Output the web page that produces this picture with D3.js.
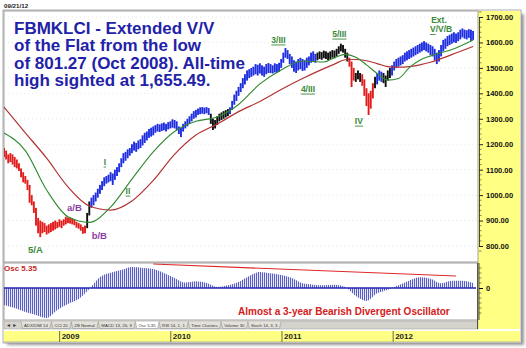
<!DOCTYPE html>
<html><head><meta charset="utf-8">
<script src="https://cdn.jsdelivr.net/npm/d3@7"></script>
<style>
html,body{margin:0;padding:0;background:#fff;}
svg{display:block;font-family:"Liberation Sans",Arial,sans-serif;}
</style></head><body>
<svg id="c" width="526" height="348"></svg>
<script>
// ---------- DATA ----------
const firstWeek = new Date(2008, 6, 4);   // weekly bars from 4 Jul 2008 to 19 Sep 2012
const hi = [
1185,1175,1160,1165,1160,1150,1140,1125,1105,1090,
1075,1060,1040,1000,975,950,910,900,895,890,
880,885,890,895,900,895,905,900,905,915,
912,910,908,905,895,890,885,875,880,930,
975,990,1000,1010,1025,1040,1055,1070,1075,1080,
1090,1085,1100,1110,1125,1145,1165,1170,1180,1185,
1200,1210,1205,1215,1220,1235,1245,1250,1260,1265,
1270,1275,1280,1278,1282,1285,1280,1287,1290,1298,
1295,1290,1270,1265,1280,1290,1300,1310,1320,1330,
1335,1340,1345,1346,1344,1346,1342,1320,1300,1295,
1310,1320,1325,1330,1334,1338,1345,1370,1395,1410,
1425,1440,1460,1475,1490,1495,1500,1505,1515,1512,
1518,1510,1505,1515,1519,1515,1510,1518,1515,1520,
1535,1560,1578,1570,1555,1545,1530,1525,1535,1540,
1535,1530,1540,1545,1560,1565,1555,1560,1565,1562,
1568,1565,1560,1565,1570,1568,1575,1585,1595,1590,
1575,1560,1540,1525,1500,1480,1490,1480,1475,1455,
1420,1400,1410,1440,1465,1480,1490,1485,1480,1470,
1490,1500,1510,1525,1535,1540,1545,1550,1560,1565,
1570,1575,1580,1585,1590,1595,1600,1605,1600,1595,
1590,1585,1575,1560,1570,1590,1610,1615,1625,1630,
1635,1640,1635,1640,1650,1655,1650,1648,1652,1650,
1645];
const lo = [
1150,1140,1125,1130,1120,1110,1105,1095,1070,1050,
1045,1020,970,960,930,880,850,835,850,855,
845,850,855,860,865,870,875,870,880,885,
890,888,885,882,872,868,860,848,850,870,
920,950,960,975,990,1005,1020,1035,1045,1050,
1055,1040,1060,1075,1090,1110,1125,1135,1145,1155,
1165,1175,1170,1180,1185,1195,1205,1215,1225,1230,
1235,1245,1250,1248,1252,1255,1250,1258,1262,1265,
1262,1255,1240,1228,1250,1262,1270,1280,1290,1300,
1305,1315,1318,1320,1318,1322,1315,1280,1256,1262,
1275,1290,1295,1300,1305,1310,1318,1335,1355,1370,
1390,1405,1420,1435,1450,1460,1465,1470,1475,1470,
1478,1470,1465,1475,1480,1480,1478,1482,1480,1485,
1500,1520,1540,1535,1515,1500,1485,1480,1490,1495,
1488,1490,1500,1510,1520,1525,1520,1530,1535,1532,
1538,1535,1530,1535,1540,1538,1545,1555,1565,1560,
1540,1525,1505,1425,1450,1445,1455,1445,1430,1390,
1350,1315,1340,1380,1420,1435,1450,1445,1440,1425,
1450,1460,1470,1490,1500,1505,1510,1515,1525,1530,
1535,1540,1545,1550,1555,1560,1565,1570,1565,1560,
1550,1545,1530,1515,1525,1545,1565,1575,1585,1590,
1595,1600,1598,1605,1612,1620,1615,1612,1618,1605,
1610];
// [last week index of run, trend colour]
const trendRuns = [[38,"down"],[40,"flat"],[96,"up"],[105,"flat"],[146,"up"],[161,"flat"],
  [164,"down"],[167,"flat"],[173,"down"],[174,"flat"],[177,"up"],[181,"flat"],[220,"up"]];
const maWeeks = [0,10,20,30,40,50,60,70,80,90,100,110,120,130,140,150,155,160,165,170,175,180,185,190,195,200,210,220];
const maGreen = [1244,1175,1020,915,893,953,1063,1170,1250,1290,1307,1356,1437,1492,1527,1523,1540,1553,1542,1512,1478,1452,1458,1500,1530,1547,1572,1610];
const maRed   = [1346,1245,1145,1032,957,941,977,1058,1160,1236,1279,1328,1368,1415,1458,1497,1515,1532,1533,1528,1517,1505,1503,1505,1512,1522,1552,1584];
const oscStepWeeks = 5;
const osc = [-51,-60,-72,-81,-90,-66,-48,-33,-3,33,46,54,63,60,57,45,30,16,20,15,3,8,18,36,48,44,39,30,14,10,8,10,3,-24,-39,-16,-5,8,22,32,28,14,22,22,15];
const oscTrend = [[70,72],[212,36]];
const priceTicks = [800,900,1000,1100,1200,1300,1400,1500,1600,1700];
const yearTicks = [2009,2010,2011,2012];
const titleLines = ["FBMKLCI - Extended V/V","of the Flat from the low","of 801.27 (Oct 2008). All-time","high sighted at 1,655.49."];
const waveLabels = [
  {t:"5/A", w:14.8, v:772, c:"#3a8a3a", s:9.5, u:false},
  {t:"a/B", w:33,   v:937, c:"#8a3ca0", s:9.5, u:false},
  {t:"b/B", w:44.8, v:827, c:"#8a3ca0", s:9.5, u:false},
  {t:"I",   w:47.4, v:1118,c:"#3a8a3a", s:8.5, u:true},
  {t:"II",  w:58.2, v:1004,c:"#3a8a3a", s:8.5, u:true},
  {t:"3/III",w:128.8,v:1598,c:"#3a8a3a",s:8.5, u:true},
  {t:"4/III",w:142.6,v:1405,c:"#3a8a3a",s:8.5, u:true},
  {t:"5/III",w:157.4,v:1621,c:"#3a8a3a",s:8.5, u:true},
  {t:"IV",  w:166.5,v:1279,c:"#3a8a3a", s:8.5, u:true},
  {t:"Ext.",w:204,  v:1676,c:"#3a8a3a", s:8.5, u:false},
  {t:"V/V/B",w:205, v:1641,c:"#3a8a3a", s:8.5, u:"first"}
];
const tabs = ["ADX/DMI 14","CCI 20","ZB Normal","MACD 13, 26, 9","Osc 5,35","RSI 14, 1, 1","Time Clusters","Volume 30","Stoch 14, 3, 3"];
const trendColor = {down:"#e21b1b", flat:"#111111", up:"#1f2fe0"};

// ---------- SCALES ----------
const svg = d3.select("#c");
const wDate = i => d3.timeDay.offset(firstWeek, 7*i);
const x = d3.scaleTime().domain([firstWeek, new Date(2012,8,24)]).range([4,474]);
const y = d3.scaleLinear().domain([800,1700]).range([246,17]);
const oy = d3.scaleLinear().domain([0,66]).range([288,266]);
const FONT = "'Liberation Sans',Arial,sans-serif";

// ---------- FRAME ----------
const defs = svg.append("defs");
defs.append("filter").attr("id","sh").append("feGaussianBlur").attr("stdDeviation",1.6);
const pat = defs.append("pattern").attr("id","stripes").attr("width",2).attr("height",10).attr("patternUnits","userSpaceOnUse");
pat.append("rect").attr("x",0).attr("y",0).attr("width",1.15).attr("height",10).attr("fill","#5a5fc6");
defs.append("clipPath").attr("id","mainClip").append("rect").attr("x",4).attr("y",11).attr("width",474).attr("height",251);
defs.append("clipPath").attr("id","oscClip").append("rect").attr("x",4).attr("y",263).attr("width",472).attr("height",57);

svg.append("rect").attr("x",7).attr("y",14).attr("width",517).attr("height",331).attr("fill","#777").attr("opacity",0.75).attr("filter","url(#sh)");
svg.append("rect").attr("x",3).attr("y",10).attr("width",518).attr("height",333).attr("fill","#fff").attr("stroke","#9a9a9a").attr("stroke-width",0.8);

svg.append("text").attr("x",4).attr("y",8).attr("font-size",6.2).attr("font-weight","bold").attr("fill","#222").text("09/21/12");

// yellow column + date band
svg.append("rect").attr("x",478).attr("y",11).attr("width",42).attr("height",318).attr("fill","#ffff84");
svg.append("rect").attr("x",4).attr("y",331).attr("width",516).attr("height",11).attr("fill","#ffff84");

// main panel
svg.append("rect").attr("x",4).attr("y",11).attr("width",474).attr("height",251).attr("fill","#fff").attr("stroke","#8a8a8a").attr("stroke-width",0.8);
// osc panel
svg.append("rect").attr("x",4).attr("y",263).attr("width",474).attr("height",57).attr("fill","#fff").attr("stroke","#8a8a8a").attr("stroke-width",0.8);
// tab bar
svg.append("rect").attr("x",4).attr("y",321).attr("width",474).attr("height",8).attr("fill","#d6d3cc").attr("stroke","#999").attr("stroke-width",0.5);
svg.append("line").attr("x1",477.5).attr("x2",477.5).attr("y1",263).attr("y2",329).attr("stroke","#333").attr("stroke-width",0.8);

// gridlines
svg.append("g").selectAll("line").data(priceTicks).join("line")
  .attr("x1",4).attr("x2",478).attr("y1",d=>y(d)).attr("y2",d=>y(d))
  .attr("stroke","#d8d8d8").attr("stroke-width",0.6).attr("stroke-dasharray","1,3");

// ---------- PRICE BARS ----------
const colorOf = i => { for (const [end,c] of trendRuns) if (i <= end) return trendColor[c]; return trendColor.up; };
const gMain = svg.append("g").attr("clip-path","url(#mainClip)");
gMain.append("g").selectAll("rect").data(hi.map((h,i)=>({i,h,l:lo[i]}))).join("rect")
  .attr("x",d=>x(wDate(d.i))-0.95).attr("width",1.9)
  .attr("y",d=>y(d.h)).attr("height",d=>Math.max(1,y(d.l)-y(d.h)))
  .attr("fill",d=>colorOf(d.i));

// moving averages
const maLine = arr => d3.line().x((d,i)=>x(wDate(maWeeks[i]))).y(d=>y(d)).curve(d3.curveMonotoneX)(arr);
gMain.append("path").attr("d",maLine(maRed)).attr("fill","none").attr("stroke","#b23232").attr("stroke-width",1.2);
gMain.append("path").attr("d",maLine(maGreen)).attr("fill","none").attr("stroke","#2f8a2f").attr("stroke-width",1.1);

// title
const title = svg.append("text").attr("font-size",17).attr("font-weight","bold").attr("fill","#2222a8");
titleLines.forEach((t,i)=> title.append("tspan").attr("x",14).attr("y",34+i*17.3).text(t));

// wave labels
waveLabels.forEach(L=>{
  const cx = x(wDate(L.w)), by = y(L.v);
  const t = svg.append("text").attr("x",cx).attr("y",by).attr("text-anchor","middle")
    .attr("font-size",L.s).attr("font-weight","bold").attr("fill",L.c).text(L.t);
  const bb = t.node().getBBox();
  if (L.u === true) {
    svg.append("line").attr("x1",bb.x).attr("x2",bb.x+bb.width).attr("y1",by+2).attr("y2",by+2).attr("stroke",L.c).attr("stroke-width",0.9);
  } else if (L.u === "first") {
    const tmp = svg.append("text").attr("font-size",L.s).attr("font-weight","bold").text("V");
    const vw = tmp.node().getComputedTextLength(); tmp.remove();
    svg.append("line").attr("x1",bb.x).attr("x2",bb.x+vw).attr("y1",by+2.5).attr("y2",by+2.5).attr("stroke",L.c).attr("stroke-width",0.9);
  }
});

// ---------- RIGHT AXIS ----------
const ax = svg.append("g").attr("transform","translate(479,0)")
  .call(d3.axisRight(y).tickValues(priceTicks).tickFormat(d3.format(".2f")).tickSize(4).tickPadding(3));
ax.select(".domain").attr("stroke","#222").attr("stroke-width",0.8);
ax.selectAll("text").attr("font-size",7.5).attr("font-weight","bold").attr("font-family",FONT).attr("fill","#111");
ax.selectAll("line").attr("stroke","#222");
svg.append("g").selectAll("line").data(d3.range(780,1721,20).filter(v=>v%100)).join("line")
  .attr("x1",479).attr("x2",481.5).attr("y1",d=>y(d)).attr("y2",d=>y(d)).attr("stroke","#333").attr("stroke-width",0.6);

// ---------- OSCILLATOR ----------
const gOsc = svg.append("g").attr("clip-path","url(#oscClip)");
const oscPts = osc.map((v,i)=>({w:i*oscStepWeeks, v}));
gOsc.append("path").attr("d", d3.area().x(d=>x(wDate(d.w))).y0(oy(0)).y1(d=>oy(d.v)).curve(d3.curveMonotoneX)(oscPts))
  .attr("fill","url(#stripes)");
gOsc.append("line").attr("x1",4).attr("x2",476).attr("y1",oy(0)).attr("y2",oy(0)).attr("stroke","#2424b4").attr("stroke-width",1.5);
gOsc.append("line").attr("x1",x(wDate(oscTrend[0][0]))).attr("y1",oy(oscTrend[0][1]))
  .attr("x2",x(wDate(oscTrend[1][0]))).attr("y2",oy(oscTrend[1][1])).attr("stroke","#e02828").attr("stroke-width",1.2);
svg.append("text").attr("x",4).attr("y",270.5).attr("font-size",8).attr("font-weight","bold").attr("fill","#c42a2a").text("Osc 5.35");
svg.append("text").attr("x",238).attr("y",314.5).attr("font-size",10).attr("font-weight","bold").attr("fill","#d42020")
  .text("Almost a 3-year Bearish Divergent Oscillator");
const oax = svg.append("g").attr("transform","translate(479,0)")
  .call(d3.axisRight(oy).tickValues([0]).tickFormat(d3.format("d")).tickSize(4).tickPadding(3));
oax.select(".domain").remove();
oax.selectAll("text").attr("font-size",7.5).attr("font-weight","bold").attr("font-family",FONT).attr("fill","#111");
svg.append("line").attr("x1",479).attr("x2",479).attr("y1",263).attr("y2",320).attr("stroke","#222").attr("stroke-width",0.8);
svg.append("g").selectAll("line").data([-75,-60,-45,-30,-15,15,30,45,60]).join("line")
  .attr("x1",479).attr("x2",481.5).attr("y1",d=>oy(d)).attr("y2",d=>oy(d)).attr("stroke","#333").attr("stroke-width",0.6);

// ---------- TAB BAR ----------
svg.append("text").attr("x",6).attr("y",327.3).attr("font-size",5).attr("fill","#333").text("◄ ►");
let tx = 21;
tabs.forEach((t,i)=>{
  const g = svg.append("g");
  const tt = g.append("text").attr("x",tx+3).attr("y",327.2).attr("font-size",4.3).attr("fill","#333").text(t);
  const w = tt.node().getComputedTextLength();
  g.insert("path","text").attr("d",`M${tx},321.5 L${tx+1.5},328.5 L${tx+w+5},328.5 L${tx+w+6.5},321.5`)
    .attr("fill", t==="Osc 5,35" ? "#fff" : "#e4e1da").attr("stroke","#777").attr("stroke-width",0.4);
  tx += w + 6.5;
});

// ---------- DATE AXIS ----------
const dx = svg.append("g").attr("transform","translate(0,331)")
  .call(d3.axisBottom(x).tickValues(yearTicks.map(yy=>new Date(yy,0,1))).tickFormat(d3.timeFormat("%Y")).tickSize(11).tickPadding(0));
dx.select(".domain").remove();
dx.selectAll("line").attr("stroke","#444").attr("stroke-width",0.8);
dx.selectAll("text").attr("font-size",8).attr("font-weight","bold").attr("font-family",FONT).attr("fill","#222")
  .attr("text-anchor","start").attr("dx",2).attr("y",2).attr("dy","0.71em");
svg.append("line").attr("x1",4).attr("x2",520).attr("y1",342).attr("y2",342).attr("stroke","#888").attr("stroke-width",0.6);
</script>
</body></html>
